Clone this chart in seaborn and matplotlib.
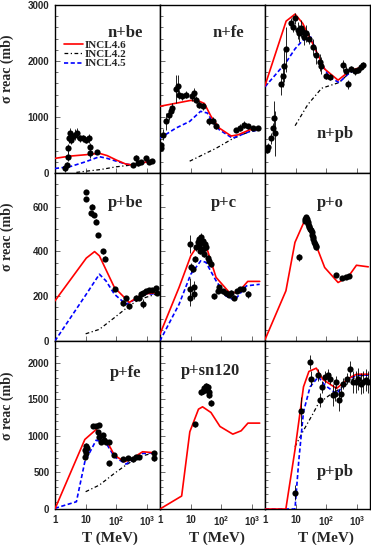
import numpy as np
import seaborn as sns
import matplotlib.pyplot as plt
from matplotlib.lines import Line2D
from matplotlib.ticker import FixedLocator, FixedFormatter, MultipleLocator, LogLocator, NullFormatter

# ---- n+be ----
nbe_T = [2.2, 2.4, 2.6, 2.7, 2.9, 3.05, 3.3, 3.7, 4.4, 5.4, 6.4, 8.2, 10, 12.8, 13.5, 14.1, 23.8,
         340, 430, 490, 630, 910, 1170, 1490]
nbe_sig = [80, 140, 290, 440, 620, 710, 590, 650, 680, 710, 620, 620, 590, 620, 350, 470, 370,
           140, 260, 170, 200, 260, 200, 210]
nbe_err = [60, 60, 80, 80, 80, 100, 80, 80, 100, 100, 60, 60, 60, 80, 80, 60, 30,
           40, 60, 40, 40, 40, 30, 30]
nbe_46_T = [1, 3, 10, 28, 50, 100, 200, 350, 600, 1000, 1500]
nbe_46 = [260, 300, 325, 350, 310, 230, 160, 140, 170, 200, 210]
nbe_45_T = [1, 3, 10, 28, 50, 100, 200, 350, 600, 1000, 1500]
nbe_45 = [80, 110, 200, 290, 260, 210, 160, 140, 170, 200, 210]
nbe_42_T = [5, 10, 30, 100, 300, 600, 1000, 1500]
nbe_42 = [10, 30, 60, 110, 140, 165, 195, 205]

# ---- n+fe ----
nfe_T = [1.05, 1.05, 1.25, 1.53, 1.97, 2.24, 2.54, 3.26, 3.99, 4.2, 5.4, 7.3, 11.4, 13, 14.8, 19,
         24.4, 40, 52, 67, 300, 390, 560, 720, 1060, 1560]
nfe_sig = [450, 500, 680, 920, 1040, 1100, 1160, 1490, 1550, 1400, 1370, 1400, 1370, 1430, 1310,
           1220, 1190, 920, 930, 830, 770, 810, 860, 830, 800, 800]
nfe_err = [60, 60, 100, 150, 100, 80, 80, 250, 200, 80, 60, 60, 80, 80, 60, 60,
           60, 60, 60, 40, 40, 60, 60, 40, 40, 40]
nfe_46_T = [1, 10, 19, 28, 46, 86, 208, 345, 830, 1780]
nfe_46 = [1190, 1295, 1280, 1240, 1010, 800, 660, 680, 770, 780]
nfe_45_T = [1, 3.3, 9.3, 21, 35, 51, 86, 230, 830, 1780]
nfe_45 = [620, 800, 920, 1100, 1070, 920, 770, 620, 740, 770]
nfe_42_T = [9.3, 67, 230, 830, 1780]
nfe_42 = [210, 440, 610, 740, 770]

# ---- n+pb ----
npb_T = [1.13, 1.31, 1.57, 1.87, 2.01, 2.17, 3.31, 3.76, 4.26, 4.83, 7.05, 8.0, 9.5, 11.7, 13.2,
         15, 17, 19.3, 21.9, 28.2, 36, 46, 60, 68, 99, 127, 348, 446, 500, 645, 830, 1070, 1370, 1550]
npb_sig = [410, 470, 620, 800, 980, 710, 1585, 1735, 1915, 2210, 2670, 2610, 2760, 2550, 2490,
           2580, 2520, 2430, 2490, 2400, 2250, 2100, 1975, 1915, 1735, 1715, 1925, 1825, 1585, 1855,
           1815, 1840, 1900, 1925]
npb_err = [60, 60, 100, 100, 300, 400, 200, 200, 300, 400, 100, 100, 100, 150, 150,
           150, 100, 150, 150, 100, 150, 150, 150, 150, 50, 50, 100, 80, 80, 60, 60, 60, 60, 60]
npb_46_T = [1, 4.9, 9.6, 17, 36, 88, 240, 580, 1580]
npb_46 = [1554, 2710, 2836, 2670, 2307, 1855, 1656, 1825, 1897]
npb_45_T = [1, 2.3, 4.9, 9.6, 17, 31, 60, 130, 260, 580, 1580]
npb_45 = [1536, 1765, 1976, 2217, 2367, 2427, 2006, 1704, 1614, 1795, 1885]
npb_42_T = [9.6, 25, 70, 260, 580, 1580]
npb_42 = [843, 1223, 1512, 1614, 1795, 1885]

# ---- p+be ----
pbe_T = [10, 10, 15.2, 16.4, 18.1, 21, 25.6, 36, 44, 90, 168, 205, 262, 430, 550, 630, 710, 760,
         910, 1170, 1490, 1900, 2150]
pbe_sig = [664, 634, 570, 600, 563, 533, 473, 400, 368, 231, 169, 190, 154, 194, 194, 209, 216,
           167, 224, 227, 227, 236, 216]
pbe_err = [10, 10, 10, 10, 10, 10, 10, 10, 10, 10, 15, 10, 10, 10, 10, 10, 10,
           20, 10, 10, 10, 10, 10]
pbe_46_T = [1, 10.5, 19.5, 28, 86, 262, 710, 2150]
pbe_46 = [179, 370, 399, 380, 239, 172, 209, 216]
pbe_45_T = [1, 10.5, 28, 46, 86, 205, 430, 910, 2150]
pbe_45 = [0, 209, 298, 268, 209, 164, 187, 209, 211]
pbe_42_T = [10, 28, 86, 262, 550, 2150]
pbe_42 = [32, 52, 104, 157, 185, 211]

# ---- p+c ----
pc_T = [9.4, 9.4, 9.4, 10.1, 11.5, 13, 13, 14, 14.8, 16.8, 18.1, 19, 20, 21.5, 23.2, 24.4, 25.7,
        27.7, 29.9, 31.4, 35.6, 40, 45.8, 59, 76, 86, 110, 141, 182, 205, 263, 316, 407, 490, 760]
pc_sig = [434, 231, 194, 328, 321, 239, 209, 366, 418, 440, 425, 455, 403, 466, 440, 410, 448,
          388, 433, 418, 370, 358, 343, 199, 224, 239, 221, 212, 206, 216, 194, 224, 231, 231, 209]
pc_err = [40, 50, 40, 20, 15, 30, 20, 15, 15, 15, 15, 15, 15, 15, 15, 15, 15,
          15, 15, 15, 15, 15, 15, 10, 10, 10, 10, 10, 10, 10, 10, 10, 10, 10, 15]
pc_46_T = [1, 4.2, 10.1, 21.5, 35.6, 67, 183, 345, 720, 1760]
pc_46 = [30, 239, 380, 448, 403, 284, 216, 216, 266, 266]
pc_45_T = [1, 4.2, 10.1, 21.5, 31.4, 67, 141, 270, 650, 1760]
pc_45 = [0, 164, 298, 358, 351, 269, 201, 182, 246, 253]

# ---- p+o ----
po_T = [12.7, 19.5, 20, 21, 22, 23.2, 24, 25, 26, 27, 28, 29.8, 31, 33, 35, 36.5, 38, 40.3, 42,
        44.6, 47, 213, 333, 427, 525]
po_sig = [373, 537, 545, 552, 540, 545, 535, 530, 520, 515, 510, 500, 495, 485, 475, 463, 455,
          440, 432, 425, 418, 295, 280, 286, 289]
po_err = [15, 10, 10, 10, 10, 10, 10, 10, 10, 10, 10, 10, 10, 10, 10, 10, 10,
          10, 10, 10, 10, 8, 8, 8, 8]
po_46_T = [1, 4.83, 9.5, 19.5, 27.5, 47, 88, 240, 510, 950, 2300]
po_46 = [5, 224, 440, 537, 522, 425, 328, 261, 286, 338, 331]

# ---- p+fe ----
pfe_T = [9.3, 9.3, 10, 10.5, 11, 17.3, 22, 26.9, 25, 28.2, 32, 36, 41, 46, 59, 57, 86, 160, 232,
         337, 430, 525, 1670, 1670]
pfe_sig = [716, 806, 861, 761, 829, 1135, 1135, 1148, 1057, 989, 920, 1012, 943, 920, 920, 624,
           738, 679, 693, 679, 716, 716, 761, 693]
pfe_err = [40, 40, 40, 40, 40, 30, 30, 30, 30, 30, 30, 30, 30, 30, 30, 30,
           30, 30, 30, 30, 30, 30, 40, 40]
pfe_46_T = [1, 9.4, 22, 47, 86, 181, 297, 710, 1700]
pfe_46 = [0, 952, 1089, 943, 738, 647, 680, 784, 770]
pfe_45_T = [1, 5, 9.4, 22, 47, 86, 205, 710, 1700]
pfe_45 = [10, 100, 647, 943, 898, 716, 615, 761, 770]
pfe_42_T = [10, 28, 86, 205, 550, 1700]
pfe_42 = [237, 328, 488, 602, 716, 770]

# ---- p+sn120 ----
psn_T = [13.7, 21.5, 24.4, 27.7, 31.4, 33, 35.6, 38.5, 40, 45.8]
psn_sig = [1157, 1595, 1613, 1650, 1686, 1627, 1672, 1604, 1559, 1454]
psn_err = [30, 40, 40, 40, 40, 40, 40, 40, 40, 40]
psn_46_T = [1, 5.1, 9.4, 18, 24.4, 45.8, 90, 235, 440, 730, 1760]
psn_46 = [0, 178, 1057, 1367, 1399, 1321, 1130, 1025, 1071, 1176, 1176]

# ---- p+pb ----
ppb_T = [9.5, 15.1, 28.4, 32, 53, 60, 74, 88, 113, 128, 165, 188, 213, 260, 310, 352, 452, 582,
         750, 915, 1090, 1300, 1590, 1950, 2340]
ppb_sig = [223, 1339, 2014, 1786, 1832, 1490, 1672, 1810, 1832, 1786, 1559, 1581, 1741, 1490,
           1581, 1718, 1786, 1923, 1741, 1741, 1786, 1718, 1741, 1764, 1741]
ppb_err = [100, 200, 100, 100, 80, 100, 80, 80, 80, 80, 150, 100, 80, 150, 100, 80, 80, 100,
           150, 150, 150, 150, 150, 150, 150]
ppb_46_T = [1, 4.8, 9.5, 18, 27, 47, 77, 213, 590, 950, 2340]
ppb_46 = [0, 0, 807, 1672, 1883, 1928, 1773, 1650, 1800, 1845, 1845]
ppb_45_T = [1, 9.5, 12.7, 18, 29.5, 55, 89, 213, 590, 950, 2340]
ppb_45 = [0, 0, 670, 1330, 1672, 1810, 1695, 1580, 1786, 1832, 1832]
ppb_42_T = [9.5, 17, 37, 55, 127, 348, 950, 2340]
ppb_42 = [852, 1057, 1308, 1445, 1559, 1672, 1818, 1832]

sns.set_style("ticks")
plt.rcParams['font.family'] = ['Liberation Sans', 'DejaVu Sans']
plt.rcParams['font.weight'] = 'bold'
plt.rcParams['mathtext.fontset'] = 'custom'
plt.rcParams['mathtext.bf'] = 'Liberation Sans:bold'
plt.rcParams['mathtext.rm'] = 'Liberation Sans:bold'

s46 = dict(color='red', lw=1.2, linestyle='-')
s42 = dict(color='black', lw=0.9, linestyle=(0, (3, 2, 1, 2)))
s45 = dict(color='blue', lw=1.2, linestyle=(0, (2.5, 1.5)))

panels = [
    ('n+be', (0.67, 0.833), (nbe_T, nbe_sig, nbe_err),
     [(nbe_42_T, nbe_42, s42), (nbe_45_T, nbe_45, s45), (nbe_46_T, nbe_46, s46)]),
    ('n+fe', (0.65, 0.833), (nfe_T, nfe_sig, nfe_err),
     [(nfe_42_T, nfe_42, s42), (nfe_45_T, nfe_45, s45), (nfe_46_T, nfe_46, s46)]),
    ('n+pb', (0.67, 0.23), (npb_T, npb_sig, npb_err),
     [(npb_42_T, npb_42, s42), (npb_45_T, npb_45, s45), (npb_46_T, npb_46, s46)]),
    ('p+be', (0.67, 0.82), (pbe_T, pbe_sig, pbe_err),
     [(pbe_42_T, pbe_42, s42), (pbe_45_T, pbe_45, s45), (pbe_46_T, pbe_46, s46)]),
    ('p+c', (0.61, 0.82), (pc_T, pc_sig, pc_err),
     [(pc_45_T, pc_45, s45), (pc_46_T, pc_46, s46)]),
    ('p+o', (0.625, 0.82), (po_T, po_sig, po_err),
     [(po_46_T, po_46, s46)]),
    ('p+fe', (0.67, 0.81), (pfe_T, pfe_sig, pfe_err),
     [(pfe_42_T, pfe_42, s42), (pfe_45_T, pfe_45, s45), (pfe_46_T, pfe_46, s46)]),
    ('p+sn120', (0.48, 0.82), (psn_T, psn_sig, psn_err),
     [(psn_46_T, psn_46, s46)]),
    ('p+pb', (0.67, 0.22), (ppb_T, ppb_sig, ppb_err),
     [(ppb_42_T, ppb_42, s42), (ppb_45_T, ppb_45, s45), (ppb_46_T, ppb_46, s46)]),
]

row_ylim = [3000, 750, 2300]
row_major = [1000, 200, 500]
row_minor = [200, 50, 100]

fig, axes = plt.subplots(3, 3, figsize=(3.71, 5.45), dpi=100, sharex=True, sharey='row')
fig.subplots_adjust(left=0.148, right=0.997, top=0.991, bottom=0.066, wspace=0, hspace=0)

serif = dict(family='Liberation Serif', weight='bold')

for i, (lab, pos, pts, curves) in enumerate(panels):
    ax = axes[i // 3, i % 3]
    r = i // 3
    for T, s, st in curves:
        sns.lineplot(x=T, y=s, ax=ax, estimator=None, sort=False, zorder=3, **st)
    T, s, e = pts
    ax.errorbar(T, s, yerr=e, fmt='none', ecolor='black', elinewidth=0.6, zorder=4)
    sns.scatterplot(x=T, y=s, ax=ax, color='black', s=20, linewidth=0, zorder=5)
    ax.text(pos[0], pos[1], lab, transform=ax.transAxes, ha='center', va='center',
            fontsize=12, **serif)
    ax.set_xscale('log')
    ax.set_xlim(1, 2600)
    ax.set_ylim(0, row_ylim[r])
    ax.yaxis.set_major_locator(MultipleLocator(row_major[r]))
    ax.yaxis.set_minor_locator(MultipleLocator(row_minor[r]))
    ax.xaxis.set_major_locator(FixedLocator([1, 10, 100, 1000]))
    ax.xaxis.set_major_formatter(FixedFormatter(['1', '10', r'$\mathbf{10^{2}}$', r'$\mathbf{10^{3}}$']))
    ax.xaxis.set_minor_locator(LogLocator(base=10, subs=range(2, 10)))
    ax.xaxis.set_minor_formatter(NullFormatter())
    ax.tick_params(which='both', direction='in', width=0.6, color='#555555',
                   labelsize=7, pad=4)
    ax.tick_params(which='major', length=3.5)
    ax.tick_params(which='minor', length=1.8)
    for sp in ax.spines.values():
        sp.set_color('black')
        sp.set_linewidth(1.0)
    ax.set_xlabel('')
    ax.set_ylabel('')

# legend in first panel
handles = [Line2D([], [], **s46), Line2D([], [], **s42), Line2D([], [], **s45)]
axes[0, 0].legend(handles, ['INCL4.6', 'INCL4.2', 'INCL4.5'], loc='upper left',
                  bbox_to_anchor=(0.09, 0.79), frameon=False, borderpad=0, borderaxespad=0,
                  handlelength=1.7, handletextpad=0.15, labelspacing=-0.05,
                  prop=dict(family='Liberation Serif', weight='bold', size=8))

# axis titles
for yc in [0.873, 0.565, 0.256]:
    fig.text(0.02, yc, 'σ reac (mb)', rotation=90, ha='center', va='center', fontsize=10, **serif)
for j, xc in enumerate([0.52, 0.54, 0.58]):
    ax = axes[2, j]
    ax.set_xlabel('T (MeV)', fontsize=11, **serif)
    ax.xaxis.set_label_coords(xc, -0.135)

fig.savefig('out.png', dpi=100)
